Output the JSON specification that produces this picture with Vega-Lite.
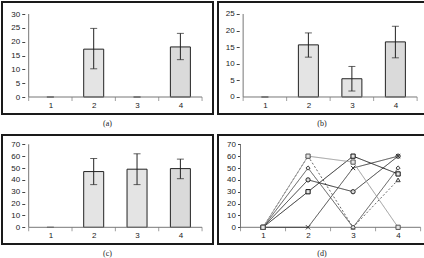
{
  "$schema": "https://vega.github.io/schema/vega-lite/v6.json",
  "padding": {"left": 1, "top": 1, "right": 0, "bottom": 0},
  "background": "white",
  "config": {
    "font": "Liberation Sans",
    "view": {"stroke": "#1a1a1a", "strokeWidth": 2},
    "axis": {"labelFontSize": 8, "labelColor": "#222", "tickColor": "#444", "grid": false, "labelFont": "Liberation Sans", "labelOverlap": false},
    "title": {"font": "Liberation Serif", "fontSize": 8, "fontWeight": "normal", "color": "#222", "orient": "bottom", "offset": 6}
  },
  "datasets": {
    "a": [
      {"cat": 1, "value": 0, "lo": 0, "hi": 0},
      {"cat": 2, "value": 17.3, "lo": 10.2, "hi": 24.8},
      {"cat": 3, "value": 0, "lo": 0, "hi": 0},
      {"cat": 4, "value": 18.1, "lo": 13.5, "hi": 23}
    ],
    "b": [
      {"cat": 1, "value": 0, "lo": 0, "hi": 0},
      {"cat": 2, "value": 15.7, "lo": 12, "hi": 19.3},
      {"cat": 3, "value": 5.5, "lo": 1.8, "hi": 9.2},
      {"cat": 4, "value": 16.6, "lo": 11.8, "hi": 21.3}
    ],
    "c": [
      {"cat": 1, "value": 0, "lo": 0, "hi": 0},
      {"cat": 2, "value": 47, "lo": 36, "hi": 58},
      {"cat": 3, "value": 49, "lo": 36, "hi": 62},
      {"cat": 4, "value": 49.5, "lo": 41, "hi": 57.5}
    ],
    "d": [
      {"s": "S1", "cat": 1, "v": 0}, {"s": "S1", "cat": 2, "v": 60}, {"s": "S1", "cat": 3, "v": 0}, {"s": "S1", "cat": 4, "v": 40},
      {"s": "S2", "cat": 1, "v": 0}, {"s": "S2", "cat": 2, "v": 50}, {"s": "S2", "cat": 3, "v": 0}, {"s": "S2", "cat": 4, "v": 50},
      {"s": "S3", "cat": 1, "v": 0}, {"s": "S3", "cat": 2, "v": 40}, {"s": "S3", "cat": 3, "v": 30}, {"s": "S3", "cat": 4, "v": 60},
      {"s": "S4", "cat": 1, "v": 0}, {"s": "S4", "cat": 2, "v": 30}, {"s": "S4", "cat": 3, "v": 60}, {"s": "S4", "cat": 4, "v": 45},
      {"s": "S5", "cat": 1, "v": 0}, {"s": "S5", "cat": 2, "v": 0}, {"s": "S5", "cat": 3, "v": 50}, {"s": "S5", "cat": 4, "v": 60},
      {"s": "S6", "cat": 1, "v": 0}, {"s": "S6", "cat": 2, "v": 60}, {"s": "S6", "cat": 3, "v": 55}, {"s": "S6", "cat": 4, "v": 0}
    ],
    "ax30": [{"x": 0.5, "x2": 4.5, "y": 0, "y2": 0}, {"x": 0.5, "x2": 0.5, "y": 0, "y2": 30}],
    "ax25": [{"x": 0.5, "x2": 4.5, "y": 0, "y2": 0}, {"x": 0.5, "x2": 0.5, "y": 0, "y2": 25}],
    "ax70": [{"x": 0.5, "x2": 4.5, "y": 0, "y2": 0}, {"x": 0.5, "x2": 0.5, "y": 0, "y2": 70}],
    "xt": [{"x": 0.5}, {"x": 1.5}, {"x": 2.5}, {"x": 3.5}, {"x": 4.5}]
  },
  "columns": 2,
  "spacing": {"row": 5, "column": 3},
  "concat": [
    {
      "width": 211, "height": 112,
      "title": "(a)",
      "data": {"name": "a"},
      "layer": [
        {
          "transform": [{"filter": "datum.value > 0"}],
          "mark": {"type": "bar", "width": 20, "stroke": "#222", "strokeWidth": 1},
          "encoding": {
            "x": {"field": "cat", "type": "quantitative", "scale": {"domain": [0, 4.637], "nice": false, "zero": false},
                  "axis": {"title": null, "values": [1, 2, 3, 4], "format": "d", "offset": -17, "domain": false, "ticks": false, "labelPadding": 4}},
            "y": {"field": "value", "type": "quantitative", "scale": {"domain": [-6.14, 34.34], "nice": false, "zero": false},
                  "axis": {"title": null, "values": [0, 5, 10, 15, 20, 25, 30], "offset": -22.75, "domain": false, "tickSize": 3, "labelPadding": 2}},
            "y2": {"datum": 0},
            "fill": {"field": "cat", "type": "nominal", "scale": {"domain": [2, 4], "range": ["#e4e4e4", "#dadada"]}, "legend": null}
          }
        },
        {
          "mark": {"type": "rule", "color": "#222", "strokeWidth": 1},
          "encoding": {
            "x": {"field": "cat", "type": "quantitative", "scale": {"domain": [0, 4.637], "nice": false, "zero": false},
                  "axis": {"title": null, "values": [1, 2, 3, 4], "format": "d", "offset": -17, "domain": false, "ticks": false, "labelPadding": 4}},
            "y": {"field": "lo", "type": "quantitative", "scale": {"domain": [-6.14, 34.34], "nice": false, "zero": false},
                  "axis": {"title": null, "values": [0, 5, 10, 15, 20, 25, 30], "offset": -22.75, "domain": false, "tickSize": 3, "labelPadding": 2}},
            "y2": {"field": "hi"}
          }
        },
        {
          "mark": {"type": "tick", "orient": "horizontal", "size": 7, "thickness": 1, "color": "#222"},
          "encoding": {
            "x": {"field": "cat", "type": "quantitative", "scale": {"domain": [0, 4.637], "nice": false, "zero": false},
                  "axis": {"title": null, "values": [1, 2, 3, 4], "format": "d", "offset": -17, "domain": false, "ticks": false, "labelPadding": 4}},
            "y": {"field": "lo", "type": "quantitative", "scale": {"domain": [-6.14, 34.34], "nice": false, "zero": false},
                  "axis": {"title": null, "values": [0, 5, 10, 15, 20, 25, 30], "offset": -22.75, "domain": false, "tickSize": 3, "labelPadding": 2}}
          }
        },
        {
          "mark": {"type": "tick", "orient": "horizontal", "size": 7, "thickness": 1, "color": "#222"},
          "encoding": {
            "x": {"field": "cat", "type": "quantitative", "scale": {"domain": [0, 4.637], "nice": false, "zero": false},
                  "axis": {"title": null, "values": [1, 2, 3, 4], "format": "d", "offset": -17, "domain": false, "ticks": false, "labelPadding": 4}},
            "y": {"field": "hi", "type": "quantitative", "scale": {"domain": [-6.14, 34.34], "nice": false, "zero": false},
                  "axis": {"title": null, "values": [0, 5, 10, 15, 20, 25, 30], "offset": -22.75, "domain": false, "tickSize": 3, "labelPadding": 2}}
          }
        },
        {
          "data": {"name": "ax30"},
          "mark": {"type": "rule", "color": "#777", "strokeWidth": 1},
          "encoding": {
            "x": {"field": "x", "type": "quantitative", "scale": {"domain": [0, 4.637], "nice": false, "zero": false},
                  "axis": {"title": null, "values": [1, 2, 3, 4], "format": "d", "offset": -17, "domain": false, "ticks": false, "labelPadding": 4}},
            "x2": {"field": "x2"},
            "y": {"field": "y", "type": "quantitative", "scale": {"domain": [-6.14, 34.34], "nice": false, "zero": false},
                  "axis": {"title": null, "values": [0, 5, 10, 15, 20, 25, 30], "offset": -22.75, "domain": false, "tickSize": 3, "labelPadding": 2}},
            "y2": {"field": "y2"}
          }
        },
        {
          "data": {"name": "xt"},
          "mark": {"type": "tick", "orient": "vertical", "size": 4, "thickness": 1, "color": "#777", "yOffset": 2},
          "encoding": {
            "x": {"field": "x", "type": "quantitative", "scale": {"domain": [0, 4.637], "nice": false, "zero": false},
                  "axis": {"title": null, "values": [1, 2, 3, 4], "format": "d", "offset": -17, "domain": false, "ticks": false, "labelPadding": 4}},
            "y": {"datum": 0, "type": "quantitative", "scale": {"domain": [-6.14, 34.34], "nice": false, "zero": false},
                  "axis": {"title": null, "values": [0, 5, 10, 15, 20, 25, 30], "offset": -22.75, "domain": false, "tickSize": 3, "labelPadding": 2}}
          }
        }
      ]
    },
    {
      "width": 208, "height": 112,
      "title": "(b)",
      "data": {"name": "b"},
      "layer": [
        {
          "transform": [{"filter": "datum.value > 0"}],
          "mark": {"type": "bar", "width": 20, "stroke": "#222", "strokeWidth": 1},
          "encoding": {
            "x": {"field": "cat", "type": "quantitative", "scale": {"domain": [0.037, 4.589], "nice": false, "zero": false},
                  "axis": {"title": null, "values": [1, 2, 3, 4], "format": "d", "offset": -17, "domain": false, "ticks": false, "labelPadding": 4}},
            "y": {"field": "value", "type": "quantitative", "scale": {"domain": [-5.12, 28.61], "nice": false, "zero": false},
                  "axis": {"title": null, "values": [0, 5, 10, 15, 20, 25], "offset": -21.2, "domain": false, "tickSize": 3, "labelPadding": 2}},
            "y2": {"datum": 0},
            "fill": {"field": "cat", "type": "nominal", "scale": {"domain": [2, 3, 4], "range": ["#dadada", "#dadada", "#dcdcdc"]}, "legend": null}
          }
        },
        {
          "mark": {"type": "rule", "color": "#222", "strokeWidth": 1},
          "encoding": {
            "x": {"field": "cat", "type": "quantitative", "scale": {"domain": [0.037, 4.589], "nice": false, "zero": false},
                  "axis": {"title": null, "values": [1, 2, 3, 4], "format": "d", "offset": -17, "domain": false, "ticks": false, "labelPadding": 4}},
            "y": {"field": "lo", "type": "quantitative", "scale": {"domain": [-5.12, 28.61], "nice": false, "zero": false},
                  "axis": {"title": null, "values": [0, 5, 10, 15, 20, 25], "offset": -21.2, "domain": false, "tickSize": 3, "labelPadding": 2}},
            "y2": {"field": "hi"}
          }
        },
        {
          "mark": {"type": "tick", "orient": "horizontal", "size": 7, "thickness": 1, "color": "#222"},
          "encoding": {
            "x": {"field": "cat", "type": "quantitative", "scale": {"domain": [0.037, 4.589], "nice": false, "zero": false},
                  "axis": {"title": null, "values": [1, 2, 3, 4], "format": "d", "offset": -17, "domain": false, "ticks": false, "labelPadding": 4}},
            "y": {"field": "lo", "type": "quantitative", "scale": {"domain": [-5.12, 28.61], "nice": false, "zero": false},
                  "axis": {"title": null, "values": [0, 5, 10, 15, 20, 25], "offset": -21.2, "domain": false, "tickSize": 3, "labelPadding": 2}}
          }
        },
        {
          "mark": {"type": "tick", "orient": "horizontal", "size": 7, "thickness": 1, "color": "#222"},
          "encoding": {
            "x": {"field": "cat", "type": "quantitative", "scale": {"domain": [0.037, 4.589], "nice": false, "zero": false},
                  "axis": {"title": null, "values": [1, 2, 3, 4], "format": "d", "offset": -17, "domain": false, "ticks": false, "labelPadding": 4}},
            "y": {"field": "hi", "type": "quantitative", "scale": {"domain": [-5.12, 28.61], "nice": false, "zero": false},
                  "axis": {"title": null, "values": [0, 5, 10, 15, 20, 25], "offset": -21.2, "domain": false, "tickSize": 3, "labelPadding": 2}}
          }
        },
        {
          "data": {"name": "ax25"},
          "mark": {"type": "rule", "color": "#777", "strokeWidth": 1},
          "encoding": {
            "x": {"field": "x", "type": "quantitative", "scale": {"domain": [0.037, 4.589], "nice": false, "zero": false},
                  "axis": {"title": null, "values": [1, 2, 3, 4], "format": "d", "offset": -17, "domain": false, "ticks": false, "labelPadding": 4}},
            "x2": {"field": "x2"},
            "y": {"field": "y", "type": "quantitative", "scale": {"domain": [-5.12, 28.61], "nice": false, "zero": false},
                  "axis": {"title": null, "values": [0, 5, 10, 15, 20, 25], "offset": -21.2, "domain": false, "tickSize": 3, "labelPadding": 2}},
            "y2": {"field": "y2"}
          }
        },
        {
          "data": {"name": "xt"},
          "mark": {"type": "tick", "orient": "vertical", "size": 4, "thickness": 1, "color": "#777", "yOffset": 2},
          "encoding": {
            "x": {"field": "x", "type": "quantitative", "scale": {"domain": [0.037, 4.589], "nice": false, "zero": false},
                  "axis": {"title": null, "values": [1, 2, 3, 4], "format": "d", "offset": -17, "domain": false, "ticks": false, "labelPadding": 4}},
            "y": {"datum": 0, "type": "quantitative", "scale": {"domain": [-5.12, 28.61], "nice": false, "zero": false},
                  "axis": {"title": null, "values": [0, 5, 10, 15, 20, 25], "offset": -21.2, "domain": false, "tickSize": 3, "labelPadding": 2}}
          }
        }
      ]
    },
    {
      "width": 211, "height": 109,
      "title": "(c)",
      "data": {"name": "c"},
      "layer": [
        {
          "transform": [{"filter": "datum.value > 0"}],
          "mark": {"type": "bar", "width": 20, "stroke": "#222", "strokeWidth": 1},
          "encoding": {
            "x": {"field": "cat", "type": "quantitative", "scale": {"domain": [0, 4.637], "nice": false, "zero": false},
                  "axis": {"title": null, "values": [1, 2, 3, 4], "format": "d", "offset": -16.7, "domain": false, "ticks": false, "labelPadding": 4}},
            "y": {"field": "value", "type": "quantitative", "scale": {"domain": [-14.08, 77.84], "nice": false, "zero": false},
                  "axis": {"title": null, "values": [0, 10, 20, 30, 40, 50, 60, 70], "offset": -22.75, "domain": false, "tickSize": 3, "labelPadding": 2}},
            "y2": {"datum": 0},
            "fill": {"field": "cat", "type": "nominal", "scale": {"domain": [2, 3, 4], "range": ["#e4e4e4", "#e0e0e0", "#d2d2d2"]}, "legend": null}
          }
        },
        {
          "mark": {"type": "rule", "color": "#222", "strokeWidth": 1},
          "encoding": {
            "x": {"field": "cat", "type": "quantitative", "scale": {"domain": [0, 4.637], "nice": false, "zero": false},
                  "axis": {"title": null, "values": [1, 2, 3, 4], "format": "d", "offset": -16.7, "domain": false, "ticks": false, "labelPadding": 4}},
            "y": {"field": "lo", "type": "quantitative", "scale": {"domain": [-14.08, 77.84], "nice": false, "zero": false},
                  "axis": {"title": null, "values": [0, 10, 20, 30, 40, 50, 60, 70], "offset": -22.75, "domain": false, "tickSize": 3, "labelPadding": 2}},
            "y2": {"field": "hi"}
          }
        },
        {
          "mark": {"type": "tick", "orient": "horizontal", "size": 7, "thickness": 1, "color": "#222"},
          "encoding": {
            "x": {"field": "cat", "type": "quantitative", "scale": {"domain": [0, 4.637], "nice": false, "zero": false},
                  "axis": {"title": null, "values": [1, 2, 3, 4], "format": "d", "offset": -16.7, "domain": false, "ticks": false, "labelPadding": 4}},
            "y": {"field": "lo", "type": "quantitative", "scale": {"domain": [-14.08, 77.84], "nice": false, "zero": false},
                  "axis": {"title": null, "values": [0, 10, 20, 30, 40, 50, 60, 70], "offset": -22.75, "domain": false, "tickSize": 3, "labelPadding": 2}}
          }
        },
        {
          "mark": {"type": "tick", "orient": "horizontal", "size": 7, "thickness": 1, "color": "#222"},
          "encoding": {
            "x": {"field": "cat", "type": "quantitative", "scale": {"domain": [0, 4.637], "nice": false, "zero": false},
                  "axis": {"title": null, "values": [1, 2, 3, 4], "format": "d", "offset": -16.7, "domain": false, "ticks": false, "labelPadding": 4}},
            "y": {"field": "hi", "type": "quantitative", "scale": {"domain": [-14.08, 77.84], "nice": false, "zero": false},
                  "axis": {"title": null, "values": [0, 10, 20, 30, 40, 50, 60, 70], "offset": -22.75, "domain": false, "tickSize": 3, "labelPadding": 2}}
          }
        },
        {
          "data": {"name": "ax70"},
          "mark": {"type": "rule", "color": "#777", "strokeWidth": 1},
          "encoding": {
            "x": {"field": "x", "type": "quantitative", "scale": {"domain": [0, 4.637], "nice": false, "zero": false},
                  "axis": {"title": null, "values": [1, 2, 3, 4], "format": "d", "offset": -16.7, "domain": false, "ticks": false, "labelPadding": 4}},
            "x2": {"field": "x2"},
            "y": {"field": "y", "type": "quantitative", "scale": {"domain": [-14.08, 77.84], "nice": false, "zero": false},
                  "axis": {"title": null, "values": [0, 10, 20, 30, 40, 50, 60, 70], "offset": -22.75, "domain": false, "tickSize": 3, "labelPadding": 2}},
            "y2": {"field": "y2"}
          }
        },
        {
          "data": {"name": "xt"},
          "mark": {"type": "tick", "orient": "vertical", "size": 4, "thickness": 1, "color": "#777", "yOffset": 2},
          "encoding": {
            "x": {"field": "x", "type": "quantitative", "scale": {"domain": [0, 4.637], "nice": false, "zero": false},
                  "axis": {"title": null, "values": [1, 2, 3, 4], "format": "d", "offset": -16.7, "domain": false, "ticks": false, "labelPadding": 4}},
            "y": {"datum": 0, "type": "quantitative", "scale": {"domain": [-14.08, 77.84], "nice": false, "zero": false},
                  "axis": {"title": null, "values": [0, 10, 20, 30, 40, 50, 60, 70], "offset": -22.75, "domain": false, "tickSize": 3, "labelPadding": 2}}
          }
        }
      ]
    },
    {
      "width": 208, "height": 109,
      "title": "(d)",
      "data": {"name": "d"},
      "layer": [
        {
          "data": {"name": "ax70"},
          "mark": {"type": "rule", "color": "#777", "strokeWidth": 1},
          "encoding": {
            "x": {"field": "x", "type": "quantitative", "scale": {"domain": [0, 4.62], "nice": false, "zero": false},
                  "axis": {"title": null, "values": [1, 2, 3, 4], "format": "d", "offset": -16.7, "domain": false, "ticks": false, "labelPadding": 4}},
            "x2": {"field": "x2"},
            "y": {"field": "y", "type": "quantitative", "scale": {"domain": [-14.08, 77.84], "nice": false, "zero": false},
                  "axis": {"title": null, "values": [0, 10, 20, 30, 40, 50, 60, 70], "offset": -22.5, "domain": false, "tickSize": 3, "labelPadding": 2}},
            "y2": {"field": "y2"}
          }
        },
        {
          "data": {"name": "xt"},
          "mark": {"type": "tick", "orient": "vertical", "size": 4, "thickness": 1, "color": "#777", "yOffset": 2},
          "encoding": {
            "x": {"field": "x", "type": "quantitative", "scale": {"domain": [0, 4.62], "nice": false, "zero": false},
                  "axis": {"title": null, "values": [1, 2, 3, 4], "format": "d", "offset": -16.7, "domain": false, "ticks": false, "labelPadding": 4}},
            "y": {"datum": 0, "type": "quantitative", "scale": {"domain": [-14.08, 77.84], "nice": false, "zero": false},
                  "axis": {"title": null, "values": [0, 10, 20, 30, 40, 50, 60, 70], "offset": -22.5, "domain": false, "tickSize": 3, "labelPadding": 2}}
          }
        },
        {
          "mark": {"type": "line", "strokeWidth": 1},
          "encoding": {
            "x": {"field": "cat", "type": "quantitative", "scale": {"domain": [0, 4.62], "nice": false, "zero": false},
                  "axis": {"title": null, "values": [1, 2, 3, 4], "format": "d", "offset": -16.7, "domain": false, "ticks": false, "labelPadding": 4}},
            "y": {"field": "v", "type": "quantitative", "scale": {"domain": [-14.08, 77.84], "nice": false, "zero": false},
                  "axis": {"title": null, "values": [0, 10, 20, 30, 40, 50, 60, 70], "offset": -22.5, "domain": false, "tickSize": 3, "labelPadding": 2}},
            "detail": {"field": "s"},
            "color": {"field": "s", "type": "nominal", "scale": {"domain": ["S1", "S2", "S3", "S4", "S5", "S6"], "range": ["#666", "#555", "#333", "#222", "#444", "#9a9a9a"]}, "legend": null},
            "strokeDash": {"field": "s", "type": "nominal", "scale": {"domain": ["S1", "S2", "S3", "S4", "S5", "S6"], "range": [[2, 2], [1, 0], [1, 0], [1, 0], [1, 0], [1, 0]]}, "legend": null}
          }
        },
        {
          "mark": {"type": "point", "size": 18, "strokeWidth": 1, "opacity": 1},
          "encoding": {
            "x": {"field": "cat", "type": "quantitative", "scale": {"domain": [0, 4.62], "nice": false, "zero": false},
                  "axis": {"title": null, "values": [1, 2, 3, 4], "format": "d", "offset": -16.7, "domain": false, "ticks": false, "labelPadding": 4}},
            "y": {"field": "v", "type": "quantitative", "scale": {"domain": [-14.08, 77.84], "nice": false, "zero": false},
                  "axis": {"title": null, "values": [0, 10, 20, 30, 40, 50, 60, 70], "offset": -22.5, "domain": false, "tickSize": 3, "labelPadding": 2}},
            "shape": {"field": "s", "type": "nominal", "scale": {"domain": ["S1", "S2", "S3", "S4", "S5", "S6"], "range": ["triangle-up", "diamond", "circle", "square", "M-1,-1L1,1M1,-1L-1,1", "square"]}, "legend": null},
            "stroke": {"field": "s", "type": "nominal", "scale": {"domain": ["S1", "S2", "S3", "S4", "S5", "S6"], "range": ["#444", "#444", "#222", "#111", "#333", "#555"]}, "legend": null},
            "fill": {"field": "s", "type": "nominal", "scale": {"domain": ["S1", "S2", "S3", "S4", "S5", "S6"], "range": ["#ffffff", "#ffffff", "#222222", "#111111", "#ffffff", "#888888"]}, "legend": null}
          }
        }
      ]
    }
  ]
}
